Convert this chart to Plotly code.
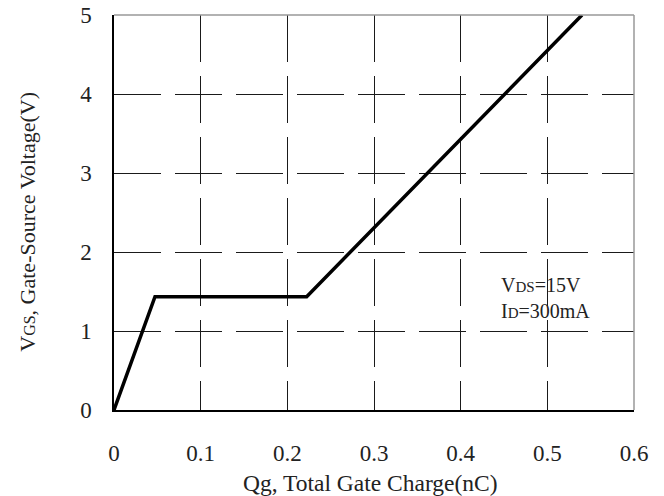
import plotly.graph_objects as go

# Data
qg_nc = [0.0, 0.0473, 0.2223, 0.540]
vgs_v = [0.0, 1.434, 1.434, 5.0]

x_tick_vals = [0, 0.1, 0.2, 0.3, 0.4, 0.5, 0.6]
x_tick_text = ["0", "0.1", "0.2", "0.3", "0.4", "0.5", "0.6"]
y_tick_vals = [0, 1, 2, 3, 4, 5]
y_tick_text = ["0", "1", "2", "3", "4", "5"]

x_title = "Qg, Total Gate Charge(nC)"
y_title = "V<span style='font-size:16px'>GS</span>, Gate-Source Voltage(V)"
note_lines = [
    "V<span style='font-size:15px'>DS</span>=15V",
    "I<span style='font-size:15px'>D</span>=300mA",
]
note_pos = (0.444, 1.42)

FONT = "Liberation Serif"
TXT = "#222"

fig = go.Figure()
fig.add_trace(go.Scatter(
    x=qg_nc, y=vgs_v, mode="lines",
    line=dict(color="black", width=3.5),
    showlegend=False, hoverinfo="skip",
))

grid = dict(showgrid=True, gridcolor="#1a1a1a", gridwidth=1, griddash="47px,14px")

fig.update_xaxes(
    range=[0, 0.6], tickvals=x_tick_vals, ticktext=x_tick_text,
    showline=True, linecolor="black", linewidth=1.5, zeroline=False,
    ticks="", ticklabelstandoff=22, automargin=False,
    tickfont=dict(family=FONT, size=23, color=TXT),
    **grid,
)
fig.update_yaxes(
    range=[0, 5], tickvals=y_tick_vals, ticktext=y_tick_text,
    showline=True, linecolor="black", linewidth=1.5, zeroline=False,
    ticks="", ticklabelstandoff=16, automargin=False,
    tickfont=dict(family=FONT, size=23, color=TXT),
    **grid,
)

# gray top and right frame
fig.add_shape(type="line", xref="paper", yref="paper", x0=0, x1=1, y0=1, y1=1,
              line=dict(color="#999", width=1.5))
fig.add_shape(type="line", xref="paper", yref="paper", x0=1, x1=1, y0=0, y1=1,
              line=dict(color="#999", width=1.5))

# axis titles
fig.add_annotation(
    x=0.494, y=-0.186, xref="paper", yref="paper", text=x_title, showarrow=False,
    xanchor="center", yanchor="middle", font=dict(family=FONT, size=23.5, color=TXT),
)
fig.add_annotation(
    x=-0.167, y=0.477, xref="paper", yref="paper", text=y_title, showarrow=False,
    textangle=-90, xanchor="center", yanchor="middle",
    font=dict(family=FONT, size=22, color=TXT),
)

fig.add_annotation(
    x=note_pos[0], y=note_pos[1], xref="x", yref="y",
    text="<br>".join(note_lines), showarrow=False,
    xanchor="left", yanchor="middle", align="left",
    font=dict(family=FONT, size=20, color=TXT),
)

fig.update_layout(
    width=664, height=496,
    margin=dict(l=114, r=30, t=15, b=86),
    plot_bgcolor="white", paper_bgcolor="white",
)

fig.write_html("out.html", config={"displayModeBar": False},
               post_script="document.body.style.margin='0';document.body.style.padding='0';")
